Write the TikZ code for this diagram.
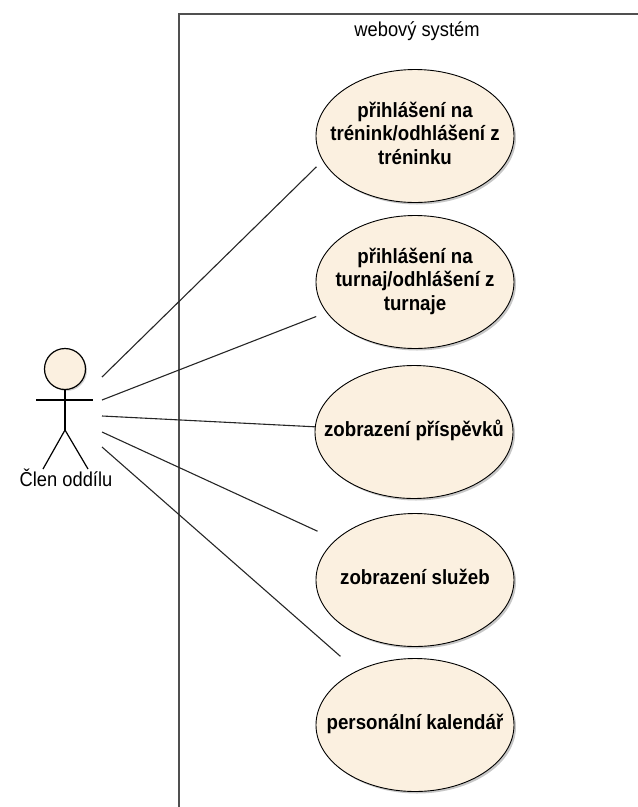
\documentclass[tikz,border=0pt]{standalone}
\usepackage{fontspec}
\setmainfont{Liberation Sans}
\usetikzlibrary{shapes.geometric,shadows}
\definecolor{ucfill}{RGB}{251,240,224}
\definecolor{framecol}{RGB}{80,80,80}
\newcommand{\talltext}[1]{\scalebox{1}[1.1]{\begin{tabular}{@{}c@{}}#1\end{tabular}}}
\begin{document}
\begin{tikzpicture}[x=1pt,y=-1pt,
  usecase/.style={ellipse, draw=black, line width=0.9pt, fill=ucfill,
    minimum width=198pt, minimum height=133pt, inner sep=0pt,
    drop shadow={shadow xshift=2pt, shadow yshift=-2pt, fill=black, opacity=0.22}},
  uctext/.style={font=\bfseries\fontsize{18.7}{21.5}\selectfont, align=center, text=black, inner sep=0pt},
  plaintext/.style={font=\fontsize{18.3}{22}\selectfont, text=black, inner sep=0pt},
  assoc/.style={draw=black!85, line width=1.1pt},
  limb/.style={draw=black, line width=1.2pt},
]
\useasboundingbox (0,0) rectangle (638,807);

% system boundary
\draw[framecol, line width=1.5pt] (179,807) -- (179,14) -- (638,14);
\node[plaintext] (title) at (417,32) {\talltext{webový systém}};

% use cases
\node[usecase, label={[uctext]center:\talltext{přihlášení na\\trénink/odhlášení z\\tréninku}}] (u1) at (415,136) {};
\node[usecase, label={[uctext]center:\talltext{přihlášení na\\turnaj/odhlášení z\\turnaje}}] (u2) at (415,282) {};
\node[usecase, label={[uctext]center:\talltext{zobrazení příspěvků}}] (u3) at (414,432) {};
\node[usecase, label={[uctext]center:\talltext{zobrazení služeb}}] (u4) at (415,580) {};
\node[usecase, label={[uctext]center:\talltext{personální kalendář}}] (u5) at (415,725) {};

% actor
\node[circle, draw=black, line width=1.2pt, fill=ucfill, minimum size=41pt, inner sep=0pt,
  drop shadow={shadow xshift=1.5pt, shadow yshift=-1.5pt, fill=black, opacity=0.18}] (head) at (65,369) {};
\coordinate (hip) at (65,430);
\coordinate (larm) at (36,400);
\coordinate (rarm) at (93,400);
\coordinate (lfoot) at (43,469);
\coordinate (rfoot) at (88,469);
\draw[limb] (head.south) -- (hip);
\draw[limb] (larm) -- (rarm);
\draw[limb] (lfoot) -- (hip) -- (rfoot);
\node[plaintext] (actorlabel) at (66,481) {\talltext{Člen oddílu}};

% association ends at the actor
\coordinate (a1) at (102,377);
\coordinate (a2) at (102,400);
\coordinate (a3) at (102,416);
\coordinate (a4) at (102,432);
\coordinate (a5) at (102,447);

\draw[assoc, shorten >=8.7pt] (a1) -- (u1.195.2);
\draw[assoc, shorten >=11pt] (a2) -- (u2.199.5);
\draw[assoc] (a3) -- (u3.177.1);
\draw[assoc, shorten >=20pt] (a4) -- (u4.153.7);
\draw[assoc, shorten >=21.8pt] (a5) -- (u5.137.6);
\end{tikzpicture}
\end{document}
